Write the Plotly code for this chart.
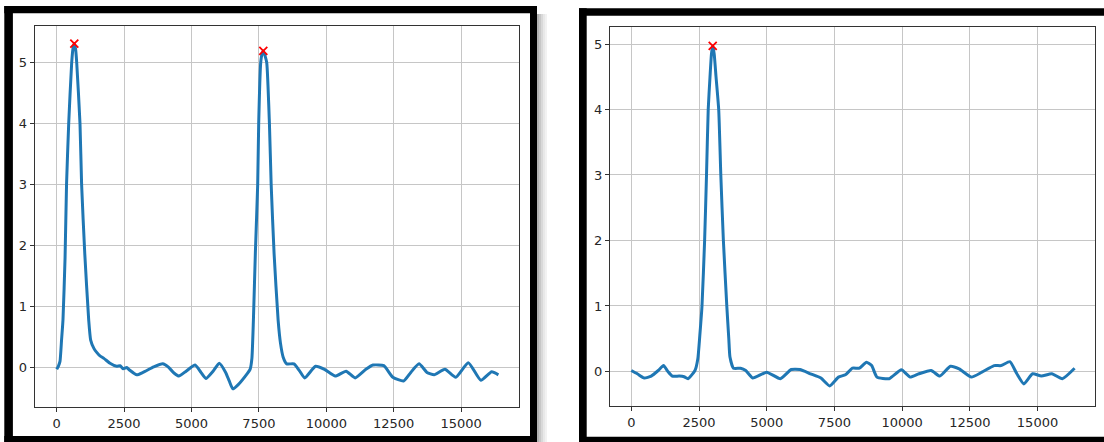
import plotly.graph_objects as go

# ---------------- data ----------------
left_x = [0, 60, 122, 180, 233, 310, 365, 445, 556, 610, 653, 700, 742, 864, 924, 1042, 1187,
          1260, 1384, 1500, 1606, 1750, 1977, 2225, 2350, 2467, 2596, 2700, 2967, 3200, 3600,
          3933, 4133, 4350, 4533, 4800, 5133, 5350, 5533, 5800, 6027, 6267, 6400, 6533, 6733,
          7067, 7173, 7240, 7296, 7370, 7455, 7492, 7567, 7620, 7663, 7720, 7790, 7890, 7955,
          8064, 8212, 8300, 8400, 8533, 8800, 9000, 9200, 9600, 9933, 10333, 10733, 11067,
          11467, 11733, 12133, 12467, 12867, 13133, 13440, 13733, 14000, 14400, 14800, 15267,
          15733, 16133, 16383]
left_y = [-0.03, 0.02, 0.10, 0.45, 0.78, 1.8, 3.0, 4.0, 5.0, 5.25, 5.31, 5.22, 5.0, 4.0, 3.0,
          1.86, 0.78, 0.45, 0.31, 0.24, 0.19, 0.15, 0.07, 0.02, 0.03, -0.02, 0.0, -0.04, -0.12,
          -0.08, 0.01, 0.06, 0.01, -0.09, -0.14, -0.06, 0.04, -0.08, -0.18, -0.06, 0.07, -0.08,
          -0.22, -0.35, -0.28, -0.10, -0.03, 0.15, 0.78, 1.9, 3.0, 4.0, 5.0, 5.15, 5.19, 5.12,
          5.0, 4.0, 3.0, 1.86, 0.78, 0.4, 0.17, 0.06, 0.06, -0.05, -0.17, 0.02, -0.03, -0.14,
          -0.06, -0.17, -0.03, 0.04, 0.03, -0.16, -0.22, -0.08, 0.06, -0.08, -0.12, -0.03,
          -0.16, 0.08, -0.21, -0.07, -0.12]
left_peaks_x = [653, 7663]
left_peaks_y = [5.31, 5.19]

right_x = [0, 220, 478, 736, 995, 1189, 1350, 1512, 1770, 1950, 2093, 2351, 2455, 2530, 2610,
           2707, 2777, 2840, 2906, 2960, 3006, 3060, 3128, 3227, 3305, 3400, 3526, 3600, 3643,
           3773, 4031, 4225, 4483, 5000, 5504, 5904, 6227, 6615, 7003, 7326, 7649, 7907, 8165,
           8424, 8682, 8876, 9070, 9522, 9974, 10297, 10620, 11072, 11395, 11783, 12106, 12558,
           12946, 13398, 13656, 13979, 14238, 14496, 14819, 15142, 15530, 15917, 16369]
right_y = [0.015, -0.035, -0.10, -0.07, 0.015, 0.09, 0.0, -0.07, -0.07, -0.08, -0.11, 0.015,
           0.19, 0.55, 1.0, 2.0, 3.0, 4.0, 4.5, 4.85, 4.97, 4.85, 4.5, 4.0, 3.0, 2.0, 1.0, 0.5,
           0.22, 0.05, 0.05, 0.015, -0.10, -0.01, -0.11, 0.03, 0.03, -0.035, -0.10, -0.22,
           -0.086, -0.05, 0.05, 0.05, 0.14, 0.09, -0.086, -0.11, 0.025, -0.086, -0.035, 0.015,
           -0.07, 0.08, 0.04, -0.086, -0.01, 0.09, 0.09, 0.15, -0.035, -0.19, -0.035, -0.07,
           -0.035, -0.11, 0.05]
right_peaks_x = [3006]
right_peaks_y = [4.97]

x_tick_vals = [0, 2500, 5000, 7500, 10000, 12500, 15000]
x_tick_text = ["0", "2500", "5000", "7500", "10000", "12500", "15000"]
y_tick_vals = [0, 1, 2, 3, 4, 5]
y_tick_text = ["0", "1", "2", "3", "4", "5"]

# ---------------- layout helpers ----------------
W, H = 1104, 442
def px(x):
    return x / W
def py(y):
    return 1 - y / H

LINE = "#1f77b4"
fig = go.Figure()

fig.add_trace(go.Scatter(x=left_x, y=left_y, mode="lines",
                         line=dict(color=LINE, width=3, shape="spline", smoothing=0.5),
                         xaxis="x", yaxis="y", showlegend=False))
fig.add_trace(go.Scatter(x=left_peaks_x, y=left_peaks_y, mode="markers",
                         marker=dict(symbol="x-thin", size=8, line=dict(color="red", width=1.8)),
                         xaxis="x", yaxis="y", showlegend=False))
fig.add_trace(go.Scatter(x=right_x, y=right_y, mode="lines",
                         line=dict(color=LINE, width=3, shape="spline", smoothing=0.5),
                         xaxis="x2", yaxis="y2", showlegend=False))
fig.add_trace(go.Scatter(x=right_peaks_x, y=right_peaks_y, mode="markers",
                         marker=dict(symbol="x-thin", size=8, line=dict(color="red", width=1.8)),
                         xaxis="x2", yaxis="y2", showlegend=False))

font = dict(family="DejaVu Sans", size=13, color="#262626")
common = dict(showgrid=True, gridcolor="#c6c6c6", gridwidth=1.1, zeroline=False,
              showline=True, linecolor="#333333", linewidth=1, mirror=True,
              ticks="outside", ticklen=4, tickwidth=1, tickcolor="#333333",
              tickfont=font)

fig.update_layout(
    width=W, height=H, margin=dict(l=0, r=0, t=0, b=0),
    paper_bgcolor="white", plot_bgcolor="white",
    xaxis=dict(domain=[px(34.7), px(518.7)], range=[-816, 17136], anchor="y",
               tickvals=x_tick_vals, ticktext=x_tick_text, **common),
    yaxis=dict(domain=[py(407.3), py(25.7)], range=[-0.652, 5.603], anchor="x",
               tickvals=y_tick_vals, ticktext=y_tick_text, **common),
    xaxis2=dict(domain=[px(610), px(1095)], range=[-787, 17123], anchor="y2",
                tickvals=x_tick_vals, ticktext=x_tick_text, **common),
    yaxis2=dict(domain=[py(406), py(27.3)], range=[-0.527, 5.255], anchor="x2",
                tickvals=y_tick_vals, ticktext=y_tick_text, **common),
)

def rect(x0, y0, x1, y1, color):
    fig.add_shape(type="rect", xref="paper", yref="paper",
                  x0=px(x0), x1=px(x1), y0=py(y1), y1=py(y0),
                  fillcolor=color, line=dict(width=0), layer="above")

# drop shadow of the left frame
shadow = ["rgba(0,0,0,0.30)", "rgba(0,0,0,0.22)", "rgba(0,0,0,0.15)",
          "rgba(0,0,0,0.09)", "rgba(0,0,0,0.05)"]
for i, c in enumerate(shadow):
    rect(537 + 2 * i, 14, 539 + 2 * i, 442, c)

# left frame
rect(4.3, 6, 537, 13.3, "black")
rect(4.3, 6, 12.9, 442, "black")
rect(530, 6, 537, 442, "black")
rect(4.3, 436, 537, 442, "black")
# right frame
rect(579, 8.3, 1104, 15.7, "black")
rect(579, 8.3, 586.7, 442, "black")
rect(579, 436.7, 1104, 442, "black")

fig.write_html("out.html", config={"displayModeBar": False},
               post_script="document.body.style.margin='0';document.body.style.overflow='hidden';")
